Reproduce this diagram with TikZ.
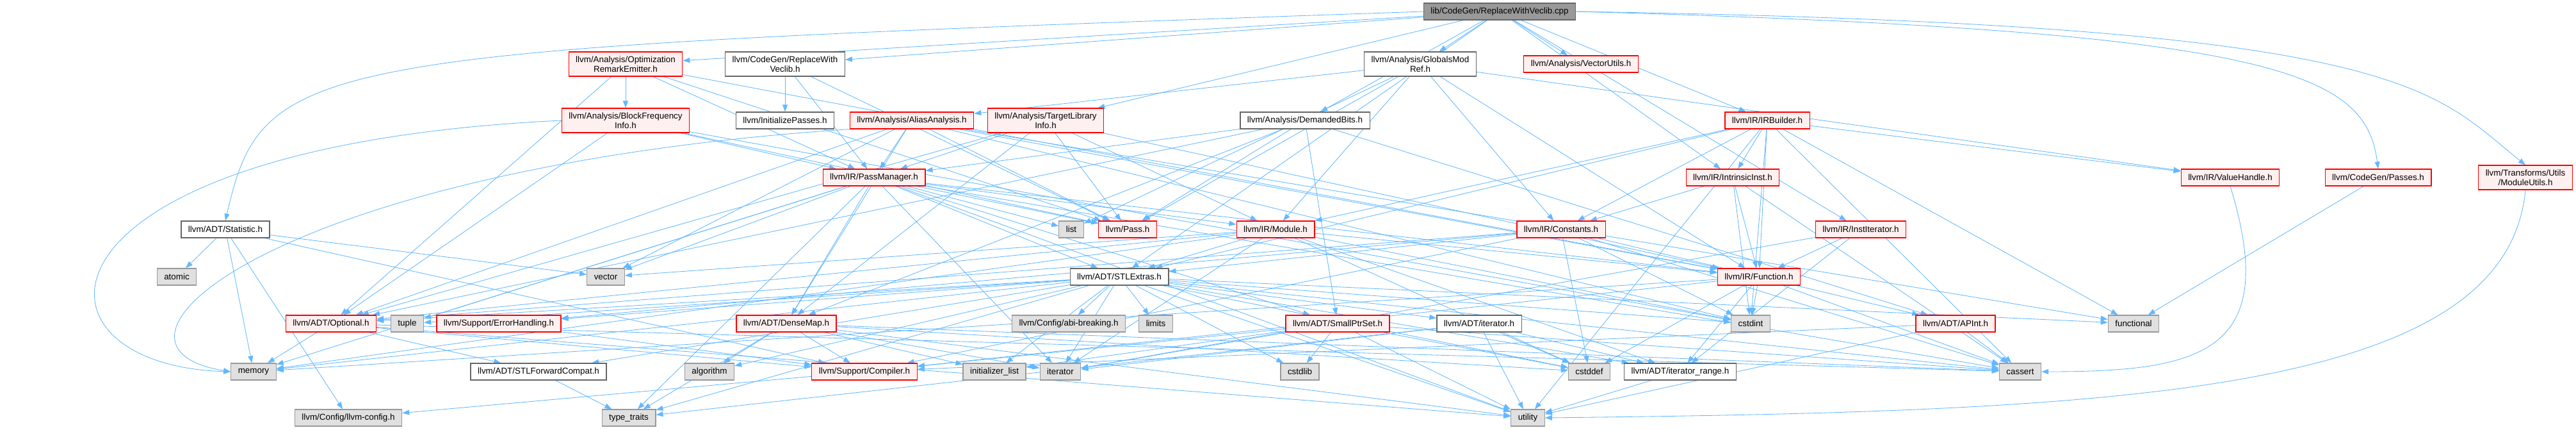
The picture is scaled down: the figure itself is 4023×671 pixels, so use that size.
\documentclass[tikz,border=0pt]{standalone}
\usepackage{fontspec}
\setmainfont{Liberation Sans}
\usepackage{xcolor}
\usepackage{tikz}
\usetikzlibrary{arrows.meta, backgrounds}
\definecolor{azulseta}{HTML}{63B8FF}
\definecolor{rosaclaro}{HTML}{FFF0F0}
\definecolor{cinzaclaro}{HTML}{E0E0E0}
\definecolor{cinzamedio}{HTML}{999999}
\definecolor{cinzaescuro}{HTML}{666666}

\begin{document}
\begin{tikzpicture}[x=1pt, y=1pt,
    arquivo/.style={draw=cinzaescuro, fill=white, line width=1.2pt, align=center,
                    inner xsep=11pt, inner ysep=6.5pt, minimum height=26pt,
                    font=\fontsize{13.4}{15}\selectfont},
    origem/.style={arquivo, fill=cinzamedio},
    truncado/.style={arquivo, draw=red, fill=rosaclaro},
    sistema/.style={arquivo, draw=cinzamedio, fill=cinzaclaro},
    seta/.style={-{Triangle[length=11pt, width=8pt]}, line width=0.85pt, azulseta}
]
    \useasboundingbox (0,0) rectangle (4023,-671);

    \node[origem] (src) at (2342,-18) {lib/CodeGen/ReplaceWithVeclib.cpp};

    \node[truncado] (optrem) at (977,-100) {llvm/Analysis/Optimization\\RemarkEmitter.h};
    \node[arquivo] (rwvh) at (1226,-100) {llvm/CodeGen/ReplaceWith\\Veclib.h};
    \node[arquivo] (gmr) at (2218,-100) {llvm/Analysis/GlobalsMod\\Ref.h};
    \node[truncado] (vecutils) at (2469,-100) {llvm/Analysis/VectorUtils.h};

    \node[truncado] (bfi) at (977,-188) {llvm/Analysis/BlockFrequency\\Info.h};
    \node[arquivo] (initp) at (1226,-188) {llvm/InitializePasses.h};
    \node[truncado] (aa) at (1424,-188) {llvm/Analysis/AliasAnalysis.h};
    \node[truncado] (tli) at (1633,-188) {llvm/Analysis/TargetLibrary\\Info.h};
    \node[arquivo] (dbits) at (2038,-188) {llvm/Analysis/DemandedBits.h};
    \node[truncado] (irbuilder) at (2760,-188) {llvm/IR/IRBuilder.h};

    \node[truncado] (passmgr) at (1365,-277) {llvm/IR/PassManager.h};
    \node[truncado] (intrinsic) at (2706,-277) {llvm/IR/IntrinsicInst.h};
    \node[truncado] (valueh) at (3483,-277) {llvm/IR/ValueHandle.h};
    \node[truncado] (passes) at (3714,-277) {llvm/CodeGen/Passes.h};
    \node[truncado] (modutils) at (3944,-277) {llvm/Transforms/Utils\\/ModuleUtils.h};

    \node[arquivo] (stat) at (352,-358) {llvm/ADT/Statistic.h};
    \node[sistema] (list) at (1673,-358) {list};
    \node[truncado] (pass) at (1761,-358) {llvm/Pass.h};
    \node[truncado] (module) at (1992,-358) {llvm/IR/Module.h};
    \node[truncado] (constants) at (2438,-358) {llvm/IR/Constants.h};
    \node[truncado] (institer) at (2906,-358) {llvm/IR/InstIterator.h};

    \node[sistema] (atomic) at (276,-432) {atomic};
    \node[sistema] (vector) at (946,-432) {vector};
    \node[arquivo] (stlextras) at (1748,-432) {llvm/ADT/STLExtras.h};
    \node[truncado] (function) at (2747,-432) {llvm/IR/Function.h};

    \node[truncado] (optional) at (517,-505) {llvm/ADT/Optional.h};
    \node[sistema] (tuple) at (636,-505) {tuple};
    \node[truncado] (errh) at (779,-505) {llvm/Support/ErrorHandling.h};
    \node[truncado] (densemap) at (1228,-505) {llvm/ADT/DenseMap.h};
    \node[sistema] (abi) at (1669,-505) {llvm/Config/abi-breaking.h};
    \node[sistema] (limits) at (1805,-505) {limits};
    \node[truncado] (smallptr) at (2089,-505) {llvm/ADT/SmallPtrSet.h};
    \node[arquivo] (iterh) at (2310,-505) {llvm/ADT/iterator.h};
    \node[sistema] (cstdint) at (2734,-505) {cstdint};
    \node[truncado] (apint) at (3054,-505) {llvm/ADT/APInt.h};
    \node[sistema] (functional) at (3332,-505) {functional};

    \node[sistema] (memory) at (396,-580) {memory};
    \node[arquivo] (stlfwd) at (841,-580) {llvm/ADT/STLForwardCompat.h};
    \node[sistema] (algorithm) at (1108,-580) {algorithm};
    \node[truncado] (compiler) at (1350,-580) {llvm/Support/Compiler.h};
    \node[sistema] (initlist) at (1553,-580) {initializer\_list};
    \node[sistema] (iterator) at (1656,-580) {iterator};
    \node[sistema] (cstdlib) at (2030,-580) {cstdlib};
    \node[sistema] (cstddef) at (2482,-580) {cstddef};
    \node[arquivo] (iterrange) at (2624,-580) {llvm/ADT/iterator\_range.h};
    \node[sistema] (cassert) at (3155,-580) {cassert};

    \node[sistema] (llvmconfig) at (544,-652) {llvm/Config/llvm-config.h};
    \node[sistema] (typetraits) at (982,-652) {type\_traits};
    \node[sistema] (utility) at (2386,-652) {utility};

    \begin{scope}[on background layer]
        % arquivo de origem
        \foreach \alvo in {rwvh, stlextras, dbits, gmr, optrem, tli, vecutils, irbuilder, institer, intrinsic}
            \draw[seta] (src) -- (\alvo);
        \draw[seta] (src.west) .. controls +(-1750,-60) and +(60,260) .. (stat.north);
        \draw[seta] (src.east) .. controls +(1100,-30) and +(-20,150) .. (passes.north);
        \draw[seta] (src.east) .. controls +(1300,-20) and +(-150,120) .. (modutils.north);

        % cabecalhos de analise
        \foreach \alvo in {bfi, passmgr, optional, pass, function}
            \draw[seta] (optrem) -- (\alvo);
        \foreach \alvo in {initp, passmgr, pass}
            \draw[seta] (rwvh) -- (\alvo);
        \foreach \alvo in {optional, passmgr, pass, cstdint}
            \draw[seta] (bfi) -- (\alvo);
        \draw[seta] (bfi.west) .. controls +(-850,-40) and +(-340,10) .. (memory.west);
        \foreach \alvo in {passmgr, densemap, optional, function, pass, cstdint, functional, vector}
            \draw[seta] (aa) -- (\alvo);
        \draw[seta] (aa.south west) .. controls +(-900,-60) and +(-250,40) .. (memory.west);
        \foreach \alvo in {passmgr, pass, module, densemap, optional, function}
            \draw[seta] (tli) -- (\alvo);
        \foreach \alvo in {pass, smallptr, densemap, apint, passmgr, optional}
            \draw[seta] (dbits) -- (\alvo);
        \foreach \alvo in {aa, constants, function, module, valueh, pass, list}
            \draw[seta] (gmr) -- (\alvo);

        % cabecalhos de IR
        \foreach \alvo in {stlextras, constants, function, intrinsic, module, valueh, cassert, cstdint, functional, utility}
            \draw[seta] (irbuilder) -- (\alvo);
        \foreach \alvo in {constants, function, cassert, cstdint}
            \draw[seta] (intrinsic) -- (\alvo);
        \draw[seta] (passes) -- (functional);
        \draw[seta] (modutils.south) .. controls +(-30,-320) and +(900,10) .. (utility.east);
        \draw[seta] (valueh.south) .. controls +(80,-260) and +(250,0) .. (cassert.east);
        \foreach \alvo in {iterrange, function, iterator}
            \draw[seta] (institer) -- (\alvo);
        \foreach \alvo in {densemap, stlextras, smallptr, function, module, pass, cassert, iterator, list, memory, tuple, typetraits, utility, vector}
            \draw[seta] (passmgr) -- (\alvo);
        \foreach \alvo in {optional, stlextras, iterrange, function, cstddef, cstdint, iterator, memory, vector}
            \draw[seta] (module) -- (\alvo);
        \foreach \alvo in {apint, optional, stlextras, compiler, errh, cassert, cstddef, cstdint}
            \draw[seta] (constants) -- (\alvo);
        \foreach \alvo in {iterrange, compiler, cassert, cstddef, cstdint, memory}
            \draw[seta] (function) -- (\alvo);

        % cabecalhos de ADT e Support
        \foreach \alvo in {optional, stlfwd, iterh, iterrange, abi, errh, algorithm, cassert, cstddef, cstdint, cstdlib, functional, initlist, iterator, limits, memory, tuple, typetraits, utility}
            \draw[seta] (stlextras) -- (\alvo);
        \foreach \alvo in {compiler, algorithm, cassert, cstddef, initlist, iterator, typetraits, utility}
            \draw[seta] (densemap) -- (\alvo);
        \foreach \alvo in {compiler, cassert, cstddef, cstdlib, initlist, iterator, utility}
            \draw[seta] (smallptr) -- (\alvo);
        \foreach \alvo in {iterrange, cstddef, iterator, typetraits, utility}
            \draw[seta] (iterh) -- (\alvo);
        \draw[seta] (iterrange) -- (utility);
        \foreach \alvo in {compiler, cassert, utility}
            \draw[seta] (apint) -- (\alvo);
        \foreach \alvo in {memory, stlfwd, compiler, cassert, utility}
            \draw[seta] (optional) -- (\alvo);
        \foreach \alvo in {atomic, memory, llvmconfig, compiler, vector}
            \draw[seta] (stat) -- (\alvo);
        \draw[seta] (stlfwd) -- (typetraits);
        \draw[seta] (compiler) -- (llvmconfig);
        \draw[seta] (errh) -- (compiler);
    \end{scope}
\end{tikzpicture}
\end{document}
